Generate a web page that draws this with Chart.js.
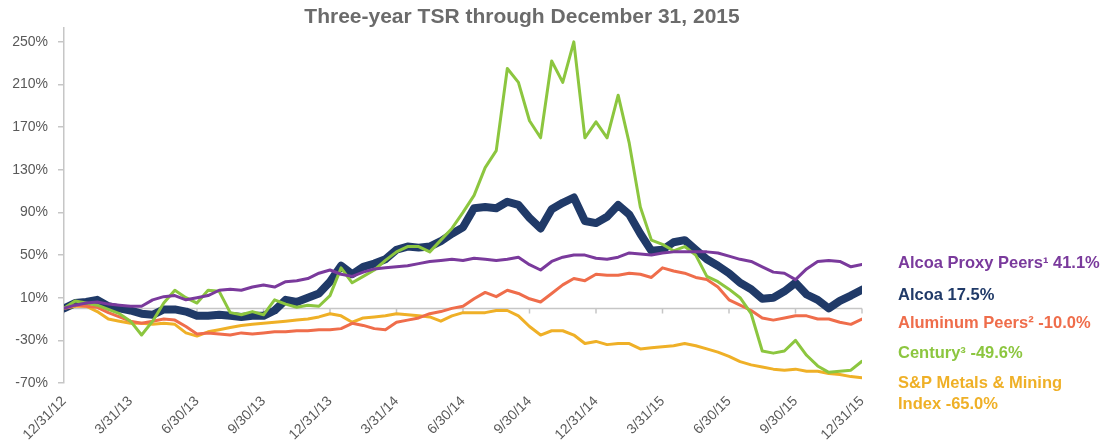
<!DOCTYPE html>
<html>
<head>
<meta charset="utf-8">
<script src="https://cdn.jsdelivr.net/npm/chart.js@4.4.0/dist/chart.umd.min.js"></script>
<style>
  html, body { margin: 0; padding: 0; background: #fff; }
  #wrap { width: 1111px; height: 448px; }
</style>
</head>
<body>
<div id="wrap"><canvas id="tsrChart"></canvas></div>
<script>
// ---- Daten (Monate seit 12/31/12, halbmonatlich) ----
const months = [0,0.5,1,1.5,2,2.5,3,3.5,4,4.5,5,5.5,6,6.5,7,7.5,8,8.5,9,9.5,10,10.5,11,11.5,12,12.5,13,13.5,14,14.5,15,15.5,16,16.5,17,17.5,18,18.5,19,19.5,20,20.5,21,21.5,22,22.5,23,23.5,24,24.5,25,25.5,26,26.5,27,27.5,28,28.5,29,29.5,30,30.5,31,31.5,32,32.5,33,33.5,34,34.5,35,35.5,36];
const quarterLabels = ['12/31/12','3/31/13','6/30/13','9/30/13','12/31/13','3/31/14','6/30/14','9/30/14','12/31/14','3/31/15','6/30/15','9/30/15','12/31/15'];
const yTicks = [-70,-30,10,50,90,130,170,210,250];

const proxyPeers = [0,3,5,6,4,3,2,2,8,11,12,8,10,12,17,18,17,20,22,20,25,26,28,33,36,32,30,34,37,38,39,40,42,44,45,46,45,47,46,45,46,48,41,36,44,48,50,50,47,46,48,52,51,50,52,53,53,53,53,52,49,46,44,39,34,33,27,37,44,45,44,39,41.1];
const alcoa = [0,5,6,8,2,0,-2,-5,-6,-1,-1,-3,-7,-7,-6,-7,-8,-7,-7,-2,8,6,10,14,25,40,32,39,42,46,55,58,57,58,63,70,76,94,95,94,100,97,85,75,93,99,104,82,80,86,97,88,70,54,55,62,64,55,46,40,33,24,18,9,10,16,24,13,8,0,7,12,17.5];
const aluminumPeers = [0,3,2,1,-4,-8,-12,-14,-12,-10,-11,-17,-24,-23,-24,-25,-23,-24,-23,-22,-22,-21,-21,-20,-20,-19,-14,-16,-19,-20,-13,-11,-9,-5,-3,0,2,9,15,11,17,14,9,6,14,22,28,26,32,31,31,33,32,29,38,35,33,29,27,20,8,3,-2,-9,-11,-9,-7,-7,-10,-10,-13,-15,-10];
const century = [0,7,5,3,-1,-5,-12,-25,-12,5,17,10,5,17,16,-4,-6,-3,-6,8,4,1,3,2,12,38,24,30,36,45,53,58,58,53,64,75,90,106,132,148,225,212,176,160,232,212,250,160,175,160,200,155,95,64,60,54,58,50,30,25,18,10,-5,-40,-42,-40,-30,-44,-54,-60,-59,-58,-49.6];
const spMetals = [0,2,2,-3,-10,-12,-14,-14,-15,-14,-15,-23,-26,-22,-20,-18,-16,-15,-14,-13,-12,-11,-10,-8,-5,-7,-13,-9,-8,-7,-5,-6,-7,-8,-12,-7,-4,-4,-4,-2,-2,-7,-17,-25,-21,-21,-25,-33,-31,-34,-33,-33,-38,-37,-36,-35,-33,-35,-38,-41,-45,-50,-53,-55,-57,-58,-57,-59,-59,-61,-62,-64,-65];

const legendLines = [
    { text: 'Alcoa Proxy Peers\u00b9 41.1%', color: '#7a3a9c', y: 263 },
    { text: 'Alcoa 17.5%', color: '#203a68', y: 295 },
    { text: 'Aluminum Peers\u00b2 -10.0%', color: '#ef6d4b', y: 323 },
    { text: 'Century\u00b3 -49.6%', color: '#8cc63f', y: 353 },
    { text: 'S&P Metals & Mining', color: '#efb027', y: 383 },
    { text: 'Index -65.0%', color: '#efb027', y: 404 }
];

function pts(values) {
    return values.map((v, i) => ({ x: months[i], y: v }));
}

function lineSet(label, values, color, width, order) {
    return {
        label: label,
        data: pts(values),
        borderColor: color,
        backgroundColor: color,
        borderWidth: width,
        pointRadius: 0,
        tension: 0,
        borderJoinStyle: 'round',
        borderCapStyle: 'round',
        order: order
    };
}

// ---- Nulllinie mit Quartalsstrichen ----
const zeroLine = {
    id: 'zeroLine',
    beforeDatasetsDraw(chart) {
        const { ctx, chartArea, scales } = chart;
        const y0 = scales.y.getPixelForValue(0);
        ctx.save();
        ctx.strokeStyle = '#c6c6c6';
        ctx.lineWidth = 1.5;
        ctx.beginPath();
        ctx.moveTo(chartArea.left, y0);
        ctx.lineTo(chartArea.right, y0);
        quarterLabels.forEach((q, i) => {
            const x = scales.x.getPixelForValue(i * 3);
            ctx.moveTo(x, y0);
            ctx.lineTo(x, y0 + 5);
        });
        ctx.stroke();
        ctx.restore();
    }
};

// ---- Titel und Beschriftung rechts ----
const sideText = {
    id: 'sideText',
    afterDraw(chart) {
        const ctx = chart.ctx;
        ctx.save();
        ctx.textBaseline = 'middle';
        ctx.textAlign = 'center';
        ctx.fillStyle = '#6b6b6b';
        ctx.font = 'bold 21px "Liberation Sans", Arial, sans-serif';
        ctx.fillText('Three-year TSR through December 31, 2015', 522, 17);
        ctx.textAlign = 'left';
        ctx.font = 'bold 16.5px "Liberation Sans", Arial, sans-serif';
        legendLines.forEach(l => {
            ctx.fillStyle = l.color;
            ctx.fillText(l.text, 898, l.y);
        });
        ctx.restore();
    }
};

const tickFont = { family: '"Liberation Sans", Arial, sans-serif', size: 14 };

new Chart(document.getElementById('tsrChart').getContext('2d'), {
    type: 'line',
    data: {
        datasets: [
            lineSet('Alcoa Proxy Peers', proxyPeers, '#7a3a9c', 3, 1),
            lineSet('Century', century, '#8cc63f', 3, 2),
            lineSet('Aluminum Peers', aluminumPeers, '#ef6d4b', 3, 3),
            lineSet('S&P Metals & Mining Index', spMetals, '#efb027', 3, 4),
            lineSet('Alcoa', alcoa, '#203a68', 8, 5)
        ]
    },
    options: {
        responsive: true,
        maintainAspectRatio: false,
        animation: false,
        layout: { padding: { top: 28, right: 249, bottom: 0, left: 0 } },
        plugins: {
            legend: { display: false },
            tooltip: { enabled: false },
            title: { display: false }
        },
        scales: {
            x: {
                type: 'linear',
                min: 0,
                max: 36,
                afterBuildTicks: s => { s.ticks = quarterLabels.map((q, i) => ({ value: i * 3 })); },
                afterFit: s => { s.height = 65; },
                ticks: {
                    callback: v => quarterLabels[Math.round(v / 3)],
                    minRotation: 45,
                    maxRotation: 45,
                    autoSkip: false,
                    padding: 10,
                    color: '#595959',
                    font: tickFont
                },
                grid: { display: false, drawTicks: false },
                border: { display: false }
            },
            y: {
                min: -70,
                max: 263,
                afterBuildTicks: s => { s.ticks = yTicks.map(v => ({ value: v })); },
                afterFit: s => { s.width = 64; },
                ticks: {
                    callback: v => v + '%',
                    padding: 10,
                    color: '#595959',
                    font: tickFont
                },
                grid: { drawOnChartArea: false, tickLength: 6, color: '#c6c6c6', lineWidth: 1.5 },
                border: { color: '#c6c6c6', width: 1.5 }
            }
        }
    },
    plugins: [zeroLine, sideText]
});
</script>
</body>
</html>
